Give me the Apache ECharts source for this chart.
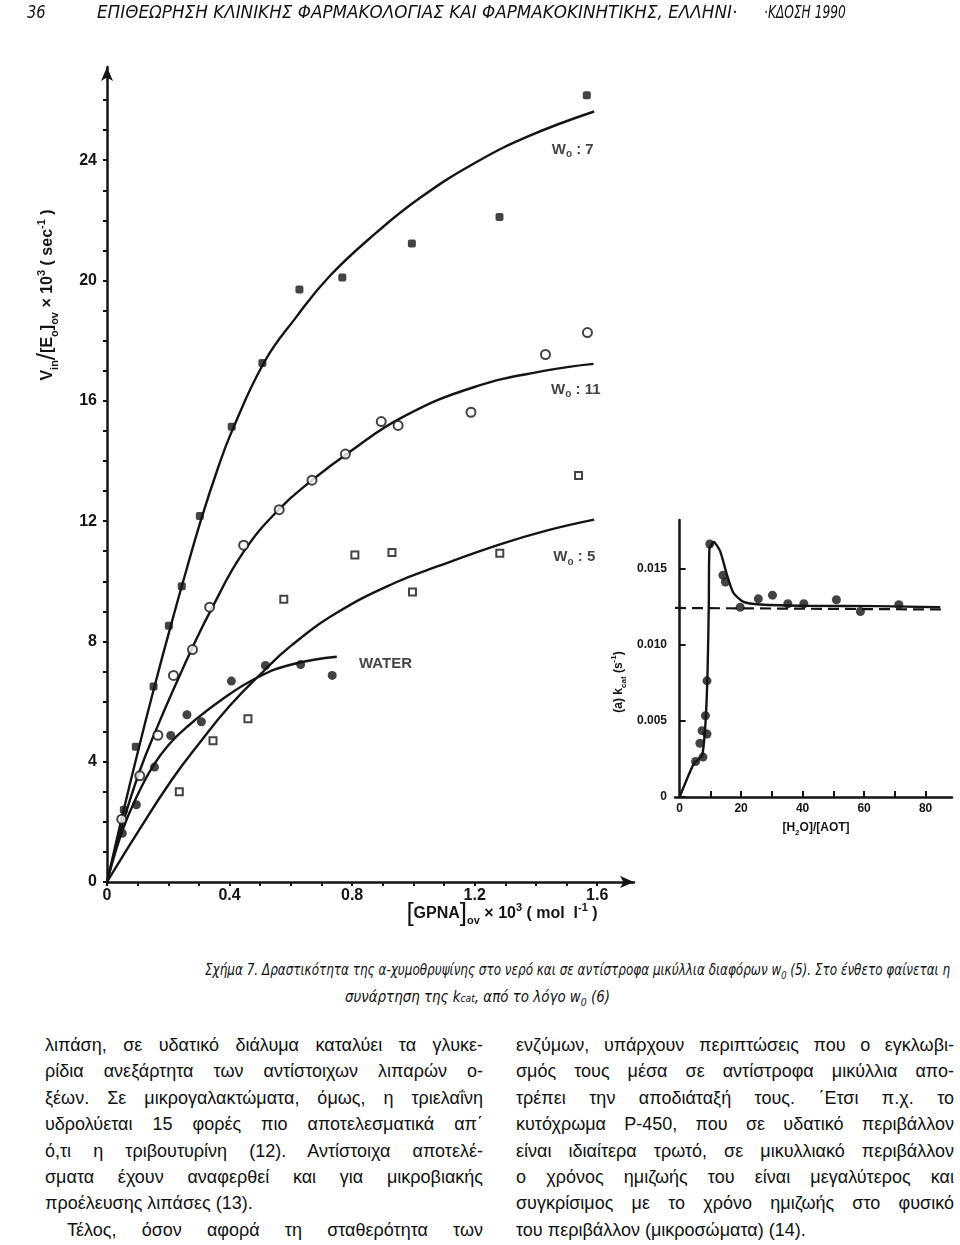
<!DOCTYPE html>
<html>
<head>
<meta charset="utf-8">
<script src="https://cdn.jsdelivr.net/npm/echarts@6/dist/echarts.min.js"></script>
<style>
  body { margin: 0; background: #fff; width: 960px; height: 1245px; position: relative; overflow: hidden; color: #111; }
  #chart { position: absolute; left: 0; top: 0; width: 960px; height: 945px; }
  .fit { position: absolute; white-space: nowrap; transform-origin: 0 50%; font-family: 'DejaVu Sans', sans-serif; font-style: italic; }
  .hdr { top: 2px; font-size: 17px; }
  .cap { font-size: 16px; }
  .col { position: absolute; top: 1032px; width: 438px; font: 18px 'Liberation Sans', Arial, sans-serif; line-height: 26.4px; }
  .col div { text-align: justify; text-align-last: justify; }
  .col div.last { text-align-last: left; }
  .col div.ind { padding-left: 22px; }
</style>
</head>
<body>
<div id="chart"></div>

<div class="fit hdr" style="left:27px" data-w="19">36</div>
<div class="fit hdr" style="left:97px" data-w="640">ΕΠΙΘΕΩΡΗΣΗ ΚΛΙΝΙΚΗΣ ΦΑΡΜΑΚΟΛΟΓΙΑΣ ΚΑΙ ΦΑΡΜΑΚΟΚΙΝΗΤΙΚΗΣ, ΕΛΛΗΝΙ·</div>
<div class="fit hdr" style="left:764px" data-w="82">·ΚΔΟΣΗ 1990</div>

<div class="fit cap" style="left:205px; top:960px" data-w="745">Σχήμα 7. Δραστικότητα της α-χυμοθρυψίνης στο νερό και σε αντίστροφα μικύλλια διαφόρων w<sub style="font-size:11px">0</sub> (5). Στο ένθετο φαίνεται η</div>
<div class="fit cap" style="left:345px; top:987px" data-w="265">συνάρτηση της k<span style="font-size:11px">cat</span>, από το λόγο w<sub style="font-size:11px">0</sub> (6)</div>

<div class="col" style="left:45px">
  <div>λιπάση, σε υδατικό διάλυμα καταλύει τα γλυκε-</div>
  <div>ρίδια ανεξάρτητα των αντίστοιχων λιπαρών ο-</div>
  <div>ξέων. Σε μικρογαλακτώματα, όμως, η τριελαΐνη</div>
  <div>υδρολύεται 15 φορές πιο αποτελεσματικά απ΄</div>
  <div>ό,τι η τριβουτυρίνη (12). Αντίστοιχα αποτελέ-</div>
  <div>σματα έχουν αναφερθεί και για μικροβιακής</div>
  <div class="last">προέλευσης λιπάσες (13).</div>
  <div class="ind">Τέλος, όσον αφορά τη σταθερότητα των</div>
</div>
<div class="col" style="left:516px">
  <div>ενζύμων, υπάρχουν περιπτώσεις που ο εγκλωβι-</div>
  <div>σμός τους μέσα σε αντίστροφα μικύλλια απο-</div>
  <div>τρέπει την αποδιάταξή τους. ΄Ετσι π.χ. το</div>
  <div>κυτόχρωμα P-450, που σε υδατικό περιβάλλον</div>
  <div>είναι ιδιαίτερα τρωτό, σε μικυλλιακό περιβάλλον</div>
  <div>ο χρόνος ημιζωής του είναι μεγαλύτερος και</div>
  <div>συγκρίσιμος με το χρόνο ημιζωής στο φυσικό</div>
  <div class="last">του περιβάλλον (μικροσώματα) (14).</div>
</div>

<script>
  // main plot: [GPNA] x 10^3 vs rate
  var wo7Points = [[0.055, 2.4], [0.094, 4.5], [0.152, 6.5], [0.202, 8.52], [0.244, 9.83], [0.303, 12.17],
    [0.407, 15.14], [0.507, 17.26], [0.628, 19.7], [0.768, 20.1], [0.995, 21.23], [1.281, 22.11], [1.566, 26.16]];
  var wo7Curve = [[0, 0], [0.05, 2.2], [0.1, 4.3], [0.155, 6.5], [0.209, 8.55], [0.257, 10.3], [0.307, 12.05],
    [0.36, 13.7], [0.408, 15.0], [0.514, 17.3], [0.615, 18.75], [0.727, 20.15], [0.88, 21.6], [1.022, 22.75],
    [1.199, 23.9], [1.376, 24.8], [1.59, 25.62]];

  var wo11Points = [[0.048, 2.09], [0.107, 3.53], [0.166, 4.88], [0.217, 6.87], [0.279, 7.73], [0.335, 9.14],
    [0.446, 11.2], [0.562, 12.38], [0.669, 13.36], [0.778, 14.23], [0.895, 15.31], [0.95, 15.18],
    [1.188, 15.62], [1.431, 17.54], [1.568, 18.27]];
  var wo11Curve = [[0, 0], [0.05, 1.9], [0.107, 3.7], [0.166, 5.2], [0.219, 6.45], [0.279, 7.8], [0.337, 9.0],
    [0.444, 10.95], [0.562, 12.4], [0.674, 13.4], [0.786, 14.26], [0.963, 15.45], [1.199, 16.46],
    [1.435, 17.01], [1.588, 17.23]];

  var wo5Points = [[0.236, 3.0], [0.346, 4.7], [0.46, 5.43], [0.577, 9.4], [0.809, 10.87], [0.93, 10.96],
    [0.997, 9.64], [1.282, 10.93], [1.539, 13.52]];
  var wo5Curve = [[0, 0], [0.1, 1.65], [0.211, 3.39], [0.3, 4.6], [0.4, 5.85], [0.51, 7.0], [0.6, 7.85],
    [0.75, 8.95], [0.94, 9.95], [1.08, 10.5], [1.29, 11.25], [1.44, 11.7], [1.59, 12.05]];

  var waterPoints = [[0.05, 1.62], [0.096, 2.57], [0.155, 3.82], [0.208, 4.87], [0.261, 5.56], [0.308, 5.33],
    [0.406, 6.68], [0.517, 7.2], [0.632, 7.23], [0.735, 6.87]];
  var waterCurve = [[0, 0], [0.05, 1.7], [0.1, 2.9], [0.15, 3.85], [0.2, 4.55], [0.26, 5.15], [0.373, 6.05],
    [0.491, 6.8], [0.609, 7.25], [0.75, 7.49]];

  var mainXLabels = [0, 0.4, 0.8, 1.2, 1.6];
  var mainXTickMarks = [0, 0.1, 0.2, 0.3, 0.4, 0.5, 0.6, 0.7, 0.8, 0.9, 1.0, 1.1, 1.2, 1.3, 1.4, 1.5, 1.6];
  var mainYLabels = [0, 4, 8, 12, 16, 20, 24];
  var mainYTickMarks = [0, 1, 2, 3, 4, 5, 6, 7, 8, 9, 10, 11, 12, 13, 14, 15, 16, 17, 18, 19, 20, 21, 22, 23, 24, 25, 26];

  // inset: kcat vs [H2O]/[AOT]
  var insetPoints = [[5.2, 0.00233], [6.6, 0.00353], [7.3, 0.00436], [7.6, 0.00262], [8.4, 0.00534],
    [8.9, 0.00414], [8.9, 0.00763], [9.8, 0.01662], [14.1, 0.01457], [14.9, 0.01413], [19.7, 0.01247],
    [25.6, 0.01302], [30.2, 0.01326], [35.2, 0.0127], [40.4, 0.0127], [51.0, 0.01296], [58.8, 0.01219],
    [71.3, 0.01263]];
  var insetCurve = [[0, 0], [4.6, 0.00218], [7.3, 0.00273], [8.4, 0.0048], [9.1, 0.0083], [9.5, 0.0127],
    [9.7, 0.0163], [11.1, 0.01675], [13.2, 0.01614], [15.4, 0.0146], [17.5, 0.01341], [20.8, 0.01282],
    [26.2, 0.01265], [42.3, 0.01256], [63.8, 0.01254], [84.8, 0.01247]];
  var insetDashed = [[-1.5, 0.01242], [85, 0.01232]];
  var insetXLabels = [0, 20, 40, 60, 80];
  var insetXTickMarks = [10, 20, 30, 40, 50, 60, 70, 80];
  var insetYLabels = [0, 0.005, 0.010, 0.015];

  var ink = '#141414';
  var fontFam = "'Liberation Sans', Arial, sans-serif";

  function axisBase(width) {
    return {
      axisLine: { show: true, lineStyle: { color: ink, width: width } },
      splitLine: { show: false },
      axisLabel: { color: ink, fontFamily: fontFam, fontWeight: 'bold' }
    };
  }

  var myChart = echarts.init(document.getElementById('chart'));

  var mainX = axisBase(2.5);
  mainX.type = 'value'; mainX.gridIndex = 0; mainX.min = 0; mainX.max = 1.72;
  mainX.axisLine.symbol = ['none', 'arrow']; mainX.axisLine.symbolSize = [9, 14];
  mainX.axisTick = { show: true, customValues: mainXTickMarks, length: 4, lineStyle: { color: ink, width: 2 } };
  mainX.axisLabel.customValues = mainXLabels; mainX.axisLabel.fontSize = 16; mainX.axisLabel.margin = 6;

  var mainY = axisBase(2.5);
  mainY.type = 'value'; mainY.gridIndex = 0; mainY.min = 0; mainY.max = 27.1;
  mainY.axisLine.symbol = ['none', 'arrow']; mainY.axisLine.symbolSize = [9, 14];
  mainY.axisTick = { show: true, customValues: mainYTickMarks, length: 4, lineStyle: { color: ink, width: 2 } };
  mainY.axisLabel.customValues = mainYLabels; mainY.axisLabel.fontSize = 16; mainY.axisLabel.margin = 10;

  var insX = axisBase(2.5);
  insX.type = 'value'; insX.gridIndex = 1; insX.min = -1.5; insX.max = 88.6;
  insX.axisLine.onZero = false;
  insX.axisTick = { show: true, inside: true, customValues: insetXTickMarks, length: 6, lineStyle: { color: ink, width: 2 } };
  insX.axisLabel.customValues = insetXLabels; insX.axisLabel.fontSize = 12; insX.axisLabel.margin = 6;

  var insY = axisBase(2.5);
  insY.type = 'value'; insY.gridIndex = 1; insY.min = 0; insY.max = 0.0182;
  insY.axisLine.onZero = true;
  insY.axisTick = { show: true, inside: true, customValues: insetYLabels, length: 6, lineStyle: { color: ink, width: 2 } };
  insY.axisLabel.customValues = insetYLabels; insY.axisLabel.fontSize = 12; insY.axisLabel.margin = 8;
  insY.axisLabel.formatter = function (v) { return v === 0 ? '0' : v.toFixed(3); };

  function curve(data, xi, smooth) {
    return {
      type: 'line', data: data, xAxisIndex: xi, yAxisIndex: xi, smooth: smooth,
      showSymbol: false, silent: true, lineStyle: { color: ink, width: 2.4 }, z: 2
    };
  }
  function dots(data, symbol, size, filled, xi) {
    return {
      type: 'scatter', data: data, xAxisIndex: xi, yAxisIndex: xi, symbol: symbol, symbolSize: size, silent: true,
      itemStyle: filled ? { color: ink } : { color: '#fff', borderColor: ink, borderWidth: 2 }, z: 3
    };
  }

  var woRich = {
    w: { fontSize: 15, fontWeight: 'bold', color: ink, fontFamily: fontFam, lineHeight: 20 },
    o: { fontSize: 10, fontWeight: 'bold', color: ink, fontFamily: fontFam, lineHeight: 12, verticalAlign: 'bottom' }
  };
  function tag(x, y, text) {
    return {
      type: 'scatter', xAxisIndex: 0, yAxisIndex: 0, symbolSize: 0, silent: true,
      data: [[x, y]],
      label: { show: true, position: 'inside', formatter: text, rich: woRich }
    };
  }

  var sub = function (size) {
    return { fontSize: size, fontWeight: 'bold', fill: ink, fontFamily: fontFam, lineHeight: 12, verticalAlign: 'bottom' };
  };
  var sup = function (size) {
    return { fontSize: size, fontWeight: 'bold', fill: ink, fontFamily: fontFam, lineHeight: 12, verticalAlign: 'top' };
  };

  myChart.setOption({
    animation: false,
    backgroundColor: '#fff',
    grid: [
      { left: 107, top: 67, width: 527, height: 815 },
      { left: 675, top: 520, width: 277, height: 277 }
    ],
    xAxis: [mainX, insX],
    yAxis: [mainY, insY],
    series: [
      curve(wo7Curve, 0, 0.45), curve(wo11Curve, 0, 0.45), curve(wo5Curve, 0, 0.45), curve(waterCurve, 0, 0.45),
      dots(wo7Points, 'roundRect', 8, true, 0),
      dots(waterPoints, 'circle', 9, true, 0),
      dots(wo11Points, 'circle', 9, false, 0),
      dots(wo5Points, 'rect', 7, false, 0),
      tag(1.52, 24.36, '{w|W}{o|o}{w| : 7}'),
      tag(1.53, 16.37, '{w|W}{o|o}{w| : 11}'),
      tag(1.525, 10.81, '{w|W}{o|o}{w| : 5}'),
      {
        type: 'scatter', xAxisIndex: 0, yAxisIndex: 0, symbolSize: 0, silent: true,
        data: [[0.909, 7.26]],
        label: { show: true, position: 'inside', formatter: 'WATER', fontSize: 15, fontWeight: 'bold', color: ink, fontFamily: fontFam }
      },
      curve(insetCurve, 1, 0.2),
      {
        type: 'line', data: insetDashed, xAxisIndex: 1, yAxisIndex: 1, showSymbol: false, silent: true,
        lineStyle: { color: ink, width: 2.2, type: [11, 6] }
      },
      dots(insetPoints, 'circle', 9, true, 1)
    ],
    graphic: [
      {
        type: 'text', x: 48, y: 295, rotation: Math.PI / 2,
        style: {
          text: '{n|V}{b|in}{s|/}{n|[E}{b|o}{n|]}{b|ov}{n| × 10}{p|3}{n| ( sec}{p|-1}{n| )}',
          align: 'center', verticalAlign: 'middle',
          rich: {
            n: { fontSize: 16, fontWeight: 'bold', fill: ink, fontFamily: fontFam, lineHeight: 24 },
            s: { fontSize: 26, fill: ink, fontFamily: fontFam, lineHeight: 24 },
            b: sub(11), p: sup(11)
          }
        }
      },
      {
        type: 'text', x: 502, y: 914,
        style: {
          text: '{k|[}{n|GPNA}{k|]}{b|ov}{n| × 10}{p|3}{n| ( mol  l}{p|-1}{n| )}',
          align: 'center', verticalAlign: 'middle',
          rich: {
            n: { fontSize: 16, fontWeight: 'bold', fill: ink, fontFamily: fontFam, lineHeight: 24 },
            k: { fontSize: 26, fill: ink, fontFamily: fontFam, lineHeight: 24 },
            b: sub(11), p: sup(11)
          }
        }
      },
      {
        type: 'text', x: 619, y: 682, rotation: Math.PI / 2,
        style: {
          text: '{n|(a) k}{b|cat}{n| (s}{p|-1}{n|)}',
          align: 'center', verticalAlign: 'middle',
          rich: {
            n: { fontSize: 12, fontWeight: 'bold', fill: ink, fontFamily: fontFam, lineHeight: 18 },
            b: sub(8), p: sup(8)
          }
        }
      },
      {
        type: 'text', x: 816, y: 828,
        style: {
          text: '{n|[H}{b|2}{n|O]/[AOT]}',
          align: 'center', verticalAlign: 'middle',
          rich: {
            n: { fontSize: 12, fontWeight: 'bold', fill: ink, fontFamily: fontFam, lineHeight: 18 },
            b: sub(8)
          }
        }
      }
    ]
  });

  // squeeze the italic running text to the widths it takes in the scan
  document.querySelectorAll('.fit').forEach(function (el) {
    var target = +el.getAttribute('data-w');
    var w = el.scrollWidth;
    if (w > 0) el.style.transform = 'scaleX(' + (target / w) + ')';
  });
</script>
</body>
</html>
